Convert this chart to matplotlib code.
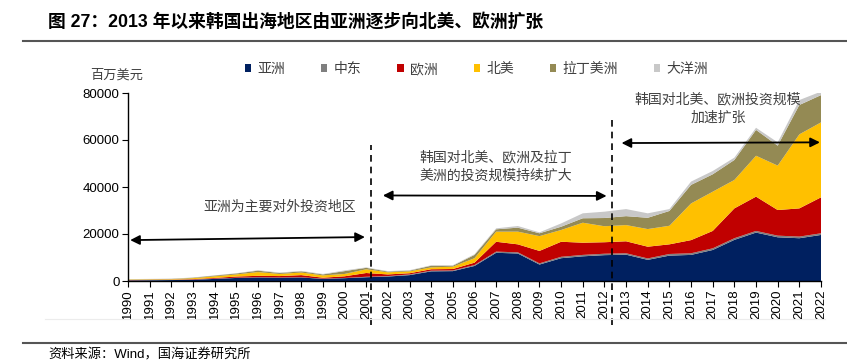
import matplotlib.pyplot as plt
from matplotlib.patches import Patch
from matplotlib.lines import Line2D

plt.rcParams['font.family'] = ['Liberation Sans', 'Noto Sans CJK SC']

years = list(range(1990, 2023))

# 单位: 十亿美元 -> 转成百万美元
asia = [0.2, 0.3, 0.4, 0.5, 0.9, 1.3, 1.5, 1.4, 1.5, 0.9, 1.2, 1.6, 1.9, 2.5, 4.1, 4.2, 6.4,
        12.0, 11.7, 7.0, 9.7, 10.5, 11.0, 11.2, 9.0, 10.8, 11.1, 13.2, 17.5, 20.6, 18.6, 18.2, 19.6]
middle_east = [0.1, 0.1, 0.1, 0.1, 0.1, 0.1, 0.1, 0.1, 0.1, 0.1, 0.1, 0.2, 0.2, 0.3, 0.3, 0.3, 0.4,
               0.5, 0.5, 0.5, 0.6, 0.6, 0.6, 0.6, 0.6, 0.7, 0.7, 0.7, 0.7, 0.7, 0.7, 0.7, 0.7]
europe = [0.1, 0.1, 0.1, 0.2, 0.3, 0.5, 0.6, 0.6, 0.9, 0.4, 0.7, 1.6, 0.7, 0.5, 0.6, 0.6, 1.0,
          4.2, 3.4, 5.3, 6.4, 5.2, 4.9, 5.1, 5.0, 4.1, 5.6, 7.4, 12.7, 14.6, 10.9, 12.0, 15.3]
north_america = [0.2, 0.2, 0.2, 0.4, 0.7, 0.9, 1.6, 0.9, 1.1, 1.0, 1.0, 1.6, 0.9, 0.8, 0.8, 1.0, 1.9,
                 4.3, 5.4, 6.3, 5.0, 8.5, 6.8, 6.9, 7.5, 7.9, 15.6, 16.7, 12.1, 17.4, 18.9, 31.5, 31.9]
latin_america = [0.1, 0.1, 0.1, 0.2, 0.3, 0.4, 0.6, 0.4, 0.5, 0.4, 1.2, 0.6, 0.3, 0.3, 0.7, 0.4, 1.4,
                 1.0, 1.7, 1.2, 1.4, 1.9, 3.5, 3.8, 4.8, 6.3, 7.9, 7.4, 8.5, 11.0, 8.5, 12.5, 11.6]
oceania = [0.1, 0.1, 0.1, 0.1, 0.1, 0.1, 0.2, 0.2, 0.2, 0.2, 0.3, 0.2, 0.2, 0.2, 0.2, 0.2, 0.3,
           0.4, 0.7, 0.4, 1.4, 2.1, 2.7, 3.0, 1.9, 0.8, 1.4, 1.4, 1.0, 0.9, 1.4, 2.1, 1.5]

labels = ['亚洲', '中东', '欧洲', '北美', '拉丁美洲', '大洋洲']
colors = ['#002060', '#7f7f7f', '#c00000', '#ffc000', '#948a54', '#c8c8c8']

series = [asia, middle_east, europe, north_america, latin_america, oceania]
series = [[v * 1000 for v in s] for s in series]

fig = plt.figure(figsize=(8.47, 3.64), dpi=100)
ax = fig.add_axes([128 / 847, 1 - 281 / 364, (821 - 128) / 847, (281 - 93) / 364])

ax.stackplot(years, *series, colors=colors, linewidth=0)

ax.set_xlim(1990, 2022)
ax.set_ylim(0, 80000)
ax.set_xticks(years)
ax.set_xticklabels([str(y) for y in years], rotation=90, fontsize=9.5)
ax.set_yticks([0, 20000, 40000, 60000, 80000])
ax.tick_params(axis='y', labelsize=9.5, length=4, width=0.8, pad=2)
ax.tick_params(axis='x', length=4, width=0.8, pad=2)
for s in ['top', 'right']:
    ax.spines[s].set_visible(False)
ax.spines['left'].set_linewidth(1.0)
ax.spines['bottom'].set_linewidth(1.0)

# 分割虚线
ax.axvline(2001.2, ymin=-0.234, ymax=0.723, color='black', lw=1.2, ls=(0, (4, 3)), clip_on=False)
ax.axvline(2012.35, ymin=-0.234, ymax=0.872, color='black', lw=1.2, ls=(0, (4, 3)), clip_on=False)

# 箭头
arrow = dict(arrowstyle='<|-|>', color='black', lw=1.3, mutation_scale=14, shrinkA=0, shrinkB=0)
ax.annotate('', xy=(2000.94, 18700), xytext=(1990.1, 17400), arrowprops=arrow, annotation_clip=False)
ax.annotate('', xy=(2012.1, 36200), xytext=(2001.77, 36400), arrowprops=arrow, annotation_clip=False)
ax.annotate('', xy=(2021.95, 59000), xytext=(2012.79, 58700), arrowprops=arrow, annotation_clip=False)

txt = dict(fontsize=10, color='#404040', ha='center', va='center', linespacing=1.4)
ax.text(1997.0, 31500, '亚洲为主要对外投资地区', **txt)
ax.text(2007.0, 48700, '韩国对北美、欧洲及拉丁\n美洲的投资规模持续扩大', **txt)
ax.text(2017.24, 73200, '韩国对北美、欧洲投资规模\n加速扩张', **txt)

fig.text(90 / 847, 1 - 75 / 364, '百万美元', fontsize=9.5, color='#404040', va='center')

handles = [Patch(facecolor=c, edgecolor='none') for c in colors]
fig.legend(handles, labels, loc='center', bbox_to_anchor=(476.5 / 847, 1 - 69 / 364), ncol=6,
           frameon=False, fontsize=10, handlelength=0.45, handleheight=0.45, handletextpad=0.45,
           columnspacing=2.6, borderpad=0, labelcolor='#404040')

fig.text(48 / 847, 1 - 22 / 364, '图 27：2013 年以来韩国出海地区由亚洲逐步向北美、欧洲扩张',
         fontsize=12.8, fontweight='bold', va='center')
fig.text(48 / 847, 1 - 355 / 364, '资料来源：Wind，国海证券研究所', fontsize=9.5, va='center')

fig.add_artist(Line2D([23 / 847, 1], [1 - 41 / 364] * 2, color='#555555', lw=1.5))
fig.add_artist(Line2D([23 / 847, 1], [1 - 343 / 364] * 2, color='#555555', lw=1.5))
fig.add_artist(Line2D([45 / 847, 825 / 847], [1 - 319 / 364] * 2, color='#ececec', lw=0.8))

fig.savefig('out.png', dpi=100)
